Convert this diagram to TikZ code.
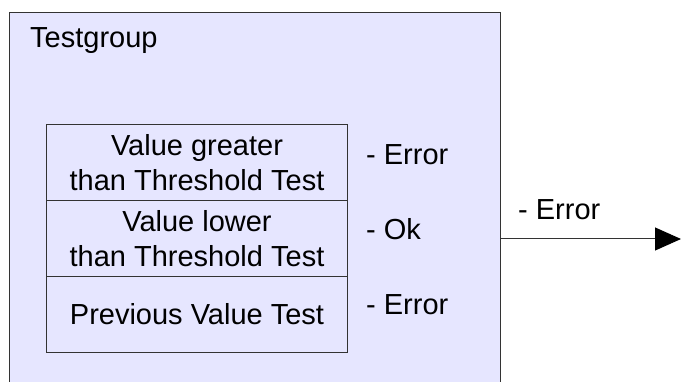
\documentclass[tikz,border=0pt]{standalone}
\usepackage{fontspec}
\setmainfont{Liberation Sans}
\usetikzlibrary{arrows.meta}
\definecolor{grpfill}{HTML}{E6E6FF}
\definecolor{edge}{HTML}{333333}
\tikzset{
  big/.style={font=\fontsize{29}{35}\selectfont},
  groupbox/.style={draw=edge, fill=grpfill, line width=1pt, inner sep=0pt},
  testbox/.style={draw=edge, line width=1pt, minimum width=301pt, minimum height=76pt, inner sep=0pt, align=center, big},
  lbl/.style={anchor=base west, inner sep=0pt, big},
  conn/.style={draw=edge, line width=1pt, -{Triangle[length=26pt,width=23pt,color=black]}}
}
\begin{document}
\begin{tikzpicture}[x=1pt,y=-1pt]
\useasboundingbox (0,0) rectangle (681,382);
\clip (0,0) rectangle (681,382);
\node[groupbox, minimum width=491pt, minimum height=420pt, anchor=north west] (group) at (8.5,12.5) {};
\node[lbl] (title) at (30,48) {Testgroup};
\node[testbox] (t1) at (197,163) {Value greater\\than Threshold Test};
\node[testbox] (t2) at (197,239) {Value lower\\than Threshold Test};
\node[testbox] (t3) at (197,314.5) {Previous Value Test};
\node[lbl] (r1) at (366,165) {- Error};
\node[lbl] (r2) at (366,240) {- Ok};
\node[lbl] (r3) at (366,315) {- Error};
\coordinate (out) at (681,239);
\draw[conn] (group.east |- out) -- (out);
\node[lbl] (outlbl) at (518,220) {- Error};
\end{tikzpicture}
\end{document}
